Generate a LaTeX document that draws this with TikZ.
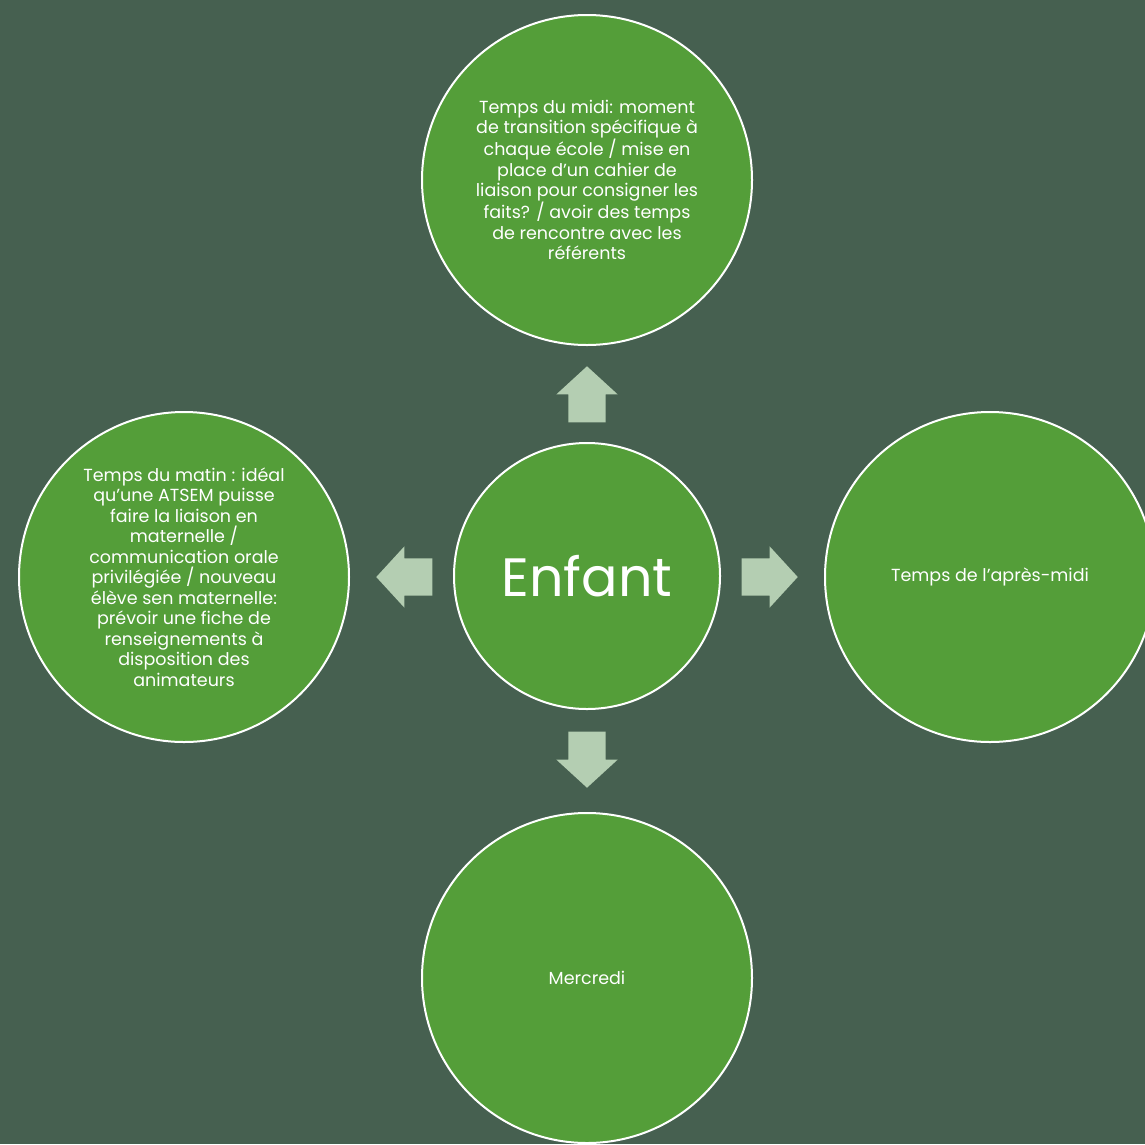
\documentclass[tikz,border=0pt]{standalone}
\usepackage{fontspec}
\setmainfont{Poppins}
\usepackage{xcolor}
\usetikzlibrary{shapes.arrows}
\definecolor{bgslate}{HTML}{466050}
\definecolor{leafgreen}{HTML}{549E39}
\definecolor{palegreen}{HTML}{B4CEB2}

\begin{document}
\begin{tikzpicture}[
    x=1pt, y=-1pt,
    bubble/.style={circle, draw=white, line width=2pt, fill=leafgreen,
                   minimum size=330pt, inner sep=0pt, align=center,
                   text=white, font=\fontsize{17.5}{20.5}\selectfont},
    hub/.style={bubble, minimum size=266pt, font=\fontsize{54}{60}\selectfont},
    blockarrow/.style={single arrow, fill=palegreen, draw=none, anchor=tip,
                       minimum height=56pt, minimum width=61pt, inner sep=18.5pt,
                       single arrow head extend=12pt, single arrow tip angle=95}
]

% Background
\fill[bgslate] (0,0) rectangle (1145,1144);
\useasboundingbox (0,0) rectangle (1145,1144);

% Centre
\node[hub] (enfant) at (587,576) {Enfant};

% Moments of the day
\node[bubble] (midi) at (587,180) {Temps du midi: moment\\de transition spécifique à\\chaque école / mise en\\place d’un cahier de\\liaison pour consigner les\\faits? / avoir des temps\\de rencontre avec les\\référents};
\node[bubble] (matin) at (184,577) {Temps du matin : idéal\\qu’une ATSEM puisse\\faire la liaison en\\maternelle /\\communication orale\\privilégiée / nouveau\\élève sen maternelle:\\prévoir une fiche de\\renseignements à\\disposition des\\animateurs};
\node[bubble] (aprem) at (990,577) {Temps de l’après-midi};
\node[bubble] (mercredi) at (587,978) {Mercredi};

% Arrows
\node[blockarrow, shape border rotate=90] (toMidi) at (587,366) {};
\node[blockarrow, shape border rotate=180] (toMatin) at (376,577) {};
\node[blockarrow, shape border rotate=0] (toAprem) at (798,577) {};
\node[blockarrow, shape border rotate=270] (toMercredi) at (587,788) {};

\end{tikzpicture}
\end{document}
